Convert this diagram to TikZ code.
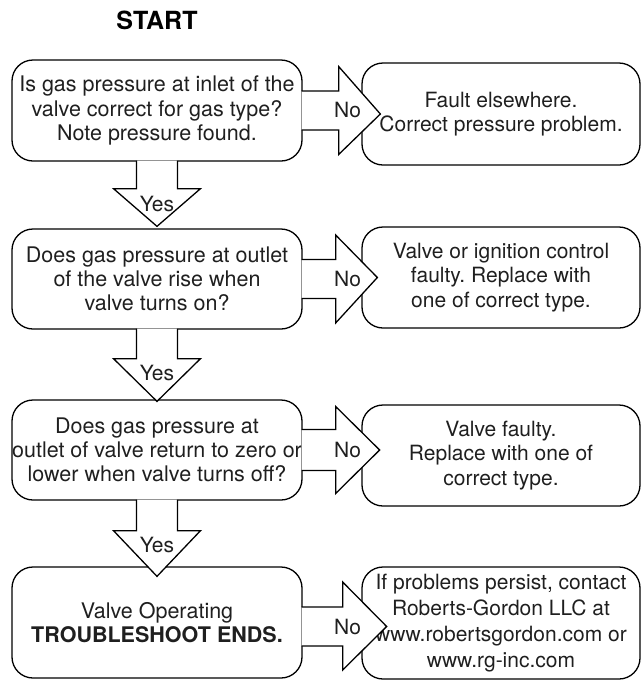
\documentclass[tikz,border=0pt]{standalone}
\usepackage{fontspec}
\setmainfont{TeX Gyre Heros}
\usetikzlibrary{calc}
\frenchspacing

\begin{document}
\begin{tikzpicture}[
    x=1pt, y=1pt,
    question/.style={draw, rectangle, rounded corners=21pt, line width=1.3pt, align=center, text=black!88, minimum width=290pt, minimum height=100pt, inner sep=0pt, font=\fontsize{21.5}{24.2}\selectfont},
    answer/.style={question, minimum width=278pt, font=\fontsize{21}{24.5}\selectfont},
    blockarrow/.style={draw, line width=1.3pt, fill=white},
    tag/.style={inner sep=0pt, text=black!88, font=\fontsize{21}{24}\selectfont}
]
\useasboundingbox (0,0) rectangle (641,-681);

% Start label
\node[font=\fontsize{25}{28}\bfseries\selectfont] (start) at (157,-20) {START};

% Questions (left column)
\node[question, minimum height=101pt] (inlet) at (157,-110.5) {Is gas pressure at inlet of the\\valve correct for gas type?\\Note pressure found.};
\node[question] (rise) at (157,-279) {Does gas pressure at outlet\\of the valve rise when\\valve turns on?};
\node[question] (zero) at (157,-450) {Does gas pressure at\\outlet of valve return to zero or\\lower when valve turns off?};
\node[question, minimum height=111pt] (ends) at (157,-622.5) {Valve Operating\\\textbf{TROUBLESHOOT ENDS.}};

% Outcomes (right column)
\node[answer, minimum height=102pt] (elsewhere) at (501,-114) {Fault elsewhere.\\Correct pressure problem.};
\node[answer, minimum height=101pt] (ctrlfault) at (501,-277.5) {Valve or ignition control\\faulty. Replace with\\one of correct type.};
\node[answer, minimum height=101pt] (valvefault) at (501,-455.5) {Valve faulty.\\Replace with one of\\correct type.};
\node[answer, minimum height=112pt, font=\fontsize{21}{26}\selectfont] (contact) at (501,-623) {If problems persist, contact\\Roberts-Gordon LLC at\\www.robertsgordon.com or\\www.rg-inc.com};

% Yes arrows - down the left column
\draw[blockarrow] ($(inlet.south)+(-20.5,1)$) |- ($(inlet.south)+(-43.5,-27)$) -- ($(rise.north)+(0,2)$) -- ($(inlet.south)+(43.5,-27)$) -| ($(inlet.south)+(20.5,1)$);
\draw[blockarrow] ($(rise.south)+(-20.5,1)$) |- ($(rise.south)+(-43.5,-29)$) -- ($(zero.north)+(0,-2)$) -- ($(rise.south)+(43.5,-29)$) -| ($(rise.south)+(20.5,1)$);
\draw[blockarrow] ($(zero.south)+(-20.5,1)$) |- ($(zero.south)+(-43.5,-30)$) -- ($(ends.north)+(0,-10)$) -- ($(zero.south)+(43.5,-30)$) -| ($(zero.south)+(20.5,1)$);
\node[tag] (yes1) at ($(inlet.south)+(0,-42)$) {Yes};
\node[tag] (yes2) at ($(rise.south)+(0,-43)$) {Yes};
\node[tag] (yes3) at ($(zero.south)+(0,-44)$) {Yes};

% No arrows - across to the outcomes
\draw[blockarrow] ($(inlet.east)+(-1,19.5)$) -| ($(inlet.east)+(36,44)$) -- ($(elsewhere.west)+(19,0)$) -- ($(inlet.east)+(36,-44)$) |- ($(inlet.east)+(-1,-19.5)$);
\draw[blockarrow] ($(rise.east)+(-1,19.5)$) -| ($(rise.east)+(33,44)$) -- ($(ctrlfault.west)+(16,0)$) -- ($(rise.east)+(33,-44)$) |- ($(rise.east)+(-1,-19.5)$);
\draw[blockarrow] ($(zero.east)+(-1,20.5)$) -| ($(zero.east)+(33,43.5)$) -- ($(zero.east)+(77,0)$) -- ($(zero.east)+(33,-43.5)$) |- ($(zero.east)+(-1,-20.5)$);
\draw[blockarrow] ($(ends.east)+(-1,15.5)$) -| ($(ends.east)+(40,40.5)$) -- ($(ends.east)+(84,-4)$) -- ($(ends.east)+(40,-47.5)$) |- ($(ends.east)+(-1,-23.5)$);
\node[tag] (no1) at ($(inlet.east)+(45,1)$) {No};
\node[tag] (no2) at ($(rise.east)+(45,0)$) {No};
\node[tag] (no3) at ($(zero.east)+(45,0)$) {No};
\node[tag] (no4) at ($(ends.east)+(45,-4)$) {No};
\end{tikzpicture}
\end{document}
